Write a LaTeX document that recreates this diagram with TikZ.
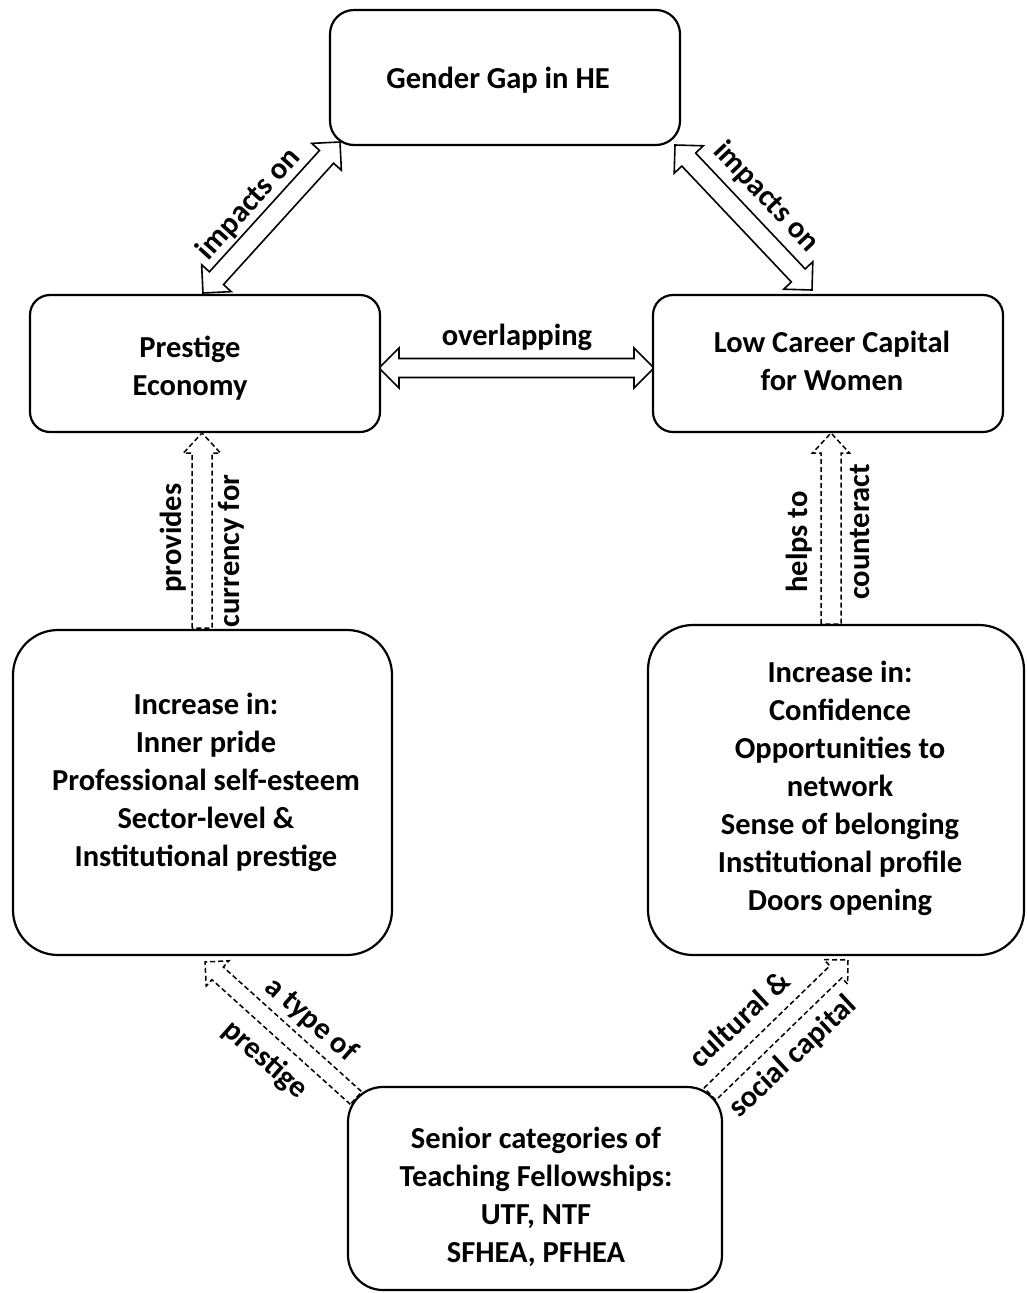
\documentclass[tikz,border=0pt]{standalone}
\usepackage{fontspec}
\setmainfont{Carlito}
\usetikzlibrary{calc}
\tikzset{
  box/.style={draw, line width=2.2pt, fill=white, inner sep=0pt},
  txt/.style={align=center, inner sep=0pt, font=\bfseries\fontsize{30.5}{38}\selectfont},
  lbl/.style={inner sep=0pt, font=\bfseries\fontsize{30.5}{34}\selectfont},
  solidarrow/.style={draw, line width=1.6pt, fill=white, line join=miter},
  dasharrow/.style={draw, line width=1.5pt, fill=white, dash pattern=on 5pt off 3pt},
}
\newcommand{\asw}{9.5pt}
\newcommand{\ahw}{20pt}
\newcommand{\ahl}{20pt}
\newcommand{\dblblock}[3][]{%
  \draw[#1] (#2) -- ($(#2)!\ahl!(#3)!\ahw!90:(#3)$) -- ($(#2)!\ahl!(#3)!\asw!90:(#3)$)
   -- ($(#3)!\ahl!(#2)!\asw!-90:(#2)$) -- ($(#3)!\ahl!(#2)!\ahw!-90:(#2)$) -- (#3)
   -- ($(#3)!\ahl!(#2)!\ahw!90:(#2)$) -- ($(#3)!\ahl!(#2)!\asw!90:(#2)$)
   -- ($(#2)!\ahl!(#3)!\asw!-90:(#3)$) -- ($(#2)!\ahl!(#3)!\ahw!-90:(#3)$) -- cycle;}
\newcommand{\sglblock}[3][]{%
  \draw[#1] ($(#2)!\asw!90:(#3)$) -- ($(#3)!\ahl!(#2)!\asw!-90:(#2)$)
   -- ($(#3)!\ahl!(#2)!\ahw!-90:(#2)$) -- (#3) -- ($(#3)!\ahl!(#2)!\ahw!90:(#2)$)
   -- ($(#3)!\ahl!(#2)!\asw!90:(#2)$) -- ($(#2)!\asw!-90:(#3)$) -- cycle;}
\begin{document}
\begin{tikzpicture}[x=1pt,y=-1pt]
\useasboundingbox (0,0) rectangle (1027,1293);
% arrow end points
\coordinate (tlA) at (203,293);
\coordinate (tlB) at (340,142);
\coordinate (trA) at (675,145);
\coordinate (trB) at (812,290);
\coordinate (ovA) at (379,368);
\coordinate (ovB) at (654,368);
\coordinate (lvA) at (202,628);
\coordinate (lvB) at (202,433);
\coordinate (rvA) at (831,624);
\coordinate (rvB) at (831,433);
\coordinate (blA) at (356,1098);
\coordinate (blB) at (205,962);
\coordinate (brA) at (710,1094);
\coordinate (brB) at (848,960);
% solid double arrows
\dblblock[solidarrow]{tlA}{tlB}
\dblblock[solidarrow]{trA}{trB}
\dblblock[solidarrow]{ovA}{ovB}
% dashed single arrows
\renewcommand{\asw}{10pt}\renewcommand{\ahw}{18.5pt}\renewcommand{\ahl}{20pt}
\sglblock[dasharrow]{lvA}{lvB}
\sglblock[dasharrow]{rvA}{rvB}
\renewcommand{\asw}{8.5pt}\renewcommand{\ahw}{17pt}\renewcommand{\ahl}{17pt}
\sglblock[dasharrow]{blA}{blB}
\sglblock[dasharrow]{brA}{brB}
% boxes
\node[box, rounded corners=24pt, minimum width=350pt, minimum height=135pt] (gap) at (505,77.5) {};
\node[box, rounded corners=20pt, minimum width=350pt, minimum height=137pt] (pe) at (205,363.5) {};
\node[box, rounded corners=20pt, minimum width=350pt, minimum height=137pt] (lcc) at (828,363.5) {};
\node[box, rounded corners=45pt, minimum width=379pt, minimum height=325pt] (lin) at (202.5,792.5) {};
\node[box, rounded corners=45pt, minimum width=376pt, minimum height=330pt] (rin) at (836,790) {};
\node[box, rounded corners=35pt, minimum width=374pt, minimum height=203pt] (stf) at (535,1188.5) {};
% box texts
\node[txt] (gap-t) at (498,80) {Gender Gap in HE};
\node[txt] (pe-t) at (190,368.5) {Prestige\\Economy};
\node[txt] (lcc-t) at (832,360.5) {Low Career Capital\\for Women};
\node[txt] (lin-t) at (206,782) {Increase in:\\Inner pride\\Professional self-esteem\\Sector-level \&\\Institutional prestige};
\node[txt] (rin-t) at (840,788) {Increase in:\\Confidence\\Opportunities to\\network\\Sense of belonging\\Institutional profile\\Doors opening};
\node[txt] (stf-t) at (536,1197) {Senior categories of\\Teaching Fellowships:\\UTF, NTF\\SFHEA, PFHEA};
% labels
\node[lbl, rotate=47.8] (l1) at (249,204) {impacts on};
\node[lbl, rotate=-46.6] (l2) at (766,197) {impacts on};
\node[lbl] (l3) at (517,337) {overlapping};
\node[lbl, rotate=90] (l4) at (173,538) {provides};
\node[lbl, rotate=90] (l5) at (231,551) {currency for};
\node[lbl, rotate=90] (l6) at (799,542) {helps to};
\node[lbl, rotate=90] (l7) at (860,532) {counteract};
\node[lbl, rotate=-41.5] (l8) at (311,1020) {a type of};
\node[lbl, rotate=-41.5] (l9) at (265,1060) {prestige};
\node[lbl, rotate=43] (l10) at (739,1019) {cultural \&};
\node[lbl, rotate=43] (l11) at (793,1057) {social capital};
\end{tikzpicture}
\end{document}
